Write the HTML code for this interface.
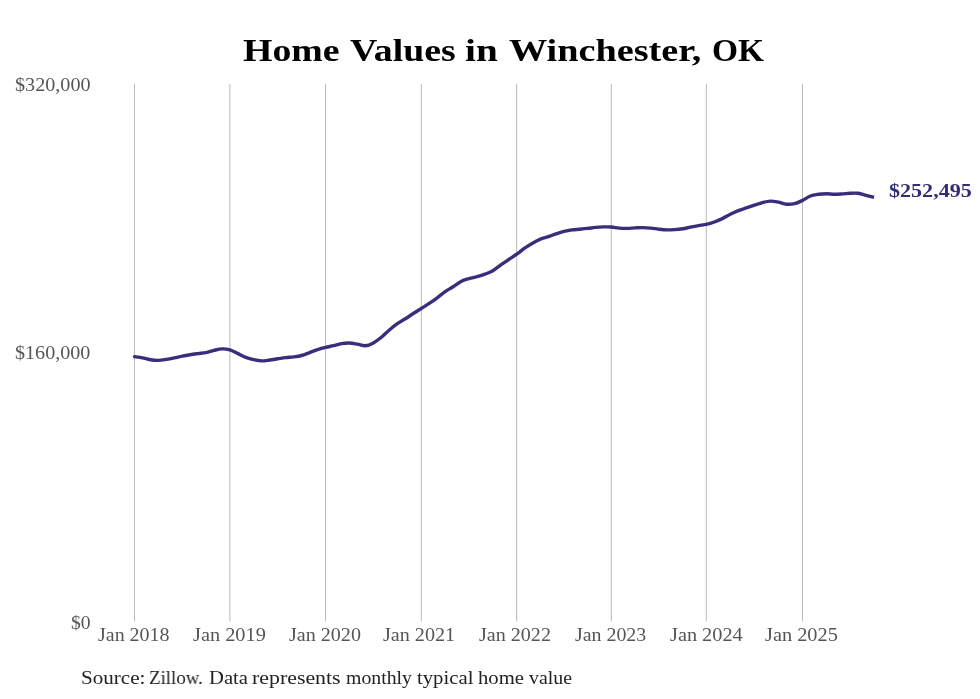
<!DOCTYPE html>
<html><head><meta charset="utf-8"><style>
html,body{margin:0;padding:0;background:#fff;}
body{width:980px;height:699px;position:relative;overflow:hidden;font-family:"Liberation Serif",serif;}
.tt,.sw,.yl,.xl,.vl{position:absolute;white-space:nowrap;line-height:1;transform-origin:0 0;will-change:transform;}
.tt{font-weight:bold;font-size:32px;color:#000;}
.sw{font-size:19.5px;color:#222;}
.yl{font-size:18px;color:#555;}
.xl{font-size:18px;color:#555;}
.vl{font-weight:bold;font-size:18px;color:#332d75;}
svg{position:absolute;left:0;top:0;}
</style></head><body>
<div class="tt" style="left:243.32px;top:33.6px;transform:scaleX(1.1812)">Home</div><div class="tt" style="left:350.2px;top:33.6px;transform:scaleX(1.1809)">Values</div><div class="tt" style="left:465.28px;top:33.6px;transform:scaleX(1.224)">in</div><div class="tt" style="left:509.2px;top:33.6px;transform:scaleX(1.195)">Winchester,</div><div class="tt" style="left:711.61px;top:33.6px;transform:scaleX(1.0437)">OK</div>
<div class="yl" style="left:14.78px;top:76px;transform:scaleX(1.1197)">$320,000</div><div class="yl" style="left:14.98px;top:344px;transform:scaleX(1.1167)">$160,000</div><div class="yl" style="left:70.98px;top:614.2px;transform:scaleX(1.0894)">$0</div>
<svg width="980" height="699" viewBox="0 0 980 699">
<g stroke="#bbbbbb" stroke-width="1"><line x1="134.5" y1="84" x2="134.5" y2="621.5"/><line x1="229.9" y1="84" x2="229.9" y2="621.5"/><line x1="325.5" y1="84" x2="325.5" y2="621.5"/><line x1="421.3" y1="84" x2="421.3" y2="621.5"/><line x1="516.7" y1="84" x2="516.7" y2="621.5"/><line x1="611.3" y1="84" x2="611.3" y2="621.5"/><line x1="706.3" y1="84" x2="706.3" y2="621.5"/><line x1="802.5" y1="84" x2="802.5" y2="621.5"/></g>
<path d="M134.50,356.60C135.82,356.82 139.80,357.38 142.45,357.90C145.10,358.42 147.75,359.28 150.40,359.70C153.05,360.12 155.70,360.45 158.35,360.40C161.00,360.35 163.65,359.82 166.30,359.40C168.95,358.98 171.60,358.45 174.25,357.90C176.90,357.35 179.55,356.63 182.20,356.10C184.85,355.57 187.50,355.12 190.15,354.70C192.80,354.28 195.45,353.95 198.10,353.60C200.75,353.25 203.40,353.13 206.05,352.60C208.70,352.07 211.35,351.02 214.00,350.40C216.65,349.78 219.30,348.98 221.95,348.90C224.60,348.82 227.25,349.12 229.90,349.90C232.55,350.68 235.21,352.35 237.87,353.60C240.52,354.85 243.18,356.38 245.83,357.40C248.49,358.42 251.14,359.12 253.80,359.70C256.46,360.28 259.11,360.85 261.77,360.90C264.42,360.95 267.08,360.35 269.73,360.00C272.39,359.65 275.04,359.20 277.70,358.80C280.36,358.40 283.01,357.92 285.67,357.60C288.32,357.28 290.98,357.25 293.63,356.90C296.29,356.55 298.94,356.22 301.60,355.50C304.26,354.78 306.91,353.57 309.57,352.60C312.22,351.63 314.88,350.57 317.53,349.70C320.19,348.83 322.84,348.07 325.50,347.40C328.16,346.73 330.82,346.33 333.48,345.70C336.14,345.07 338.81,344.05 341.47,343.60C344.13,343.15 346.79,342.90 349.45,343.00C352.11,343.10 354.77,343.73 357.43,344.20C360.09,344.67 362.76,346.02 365.42,345.80C368.08,345.58 370.74,344.32 373.40,342.90C376.06,341.48 378.72,339.45 381.38,337.30C384.04,335.15 386.71,332.27 389.37,330.00C392.03,327.73 394.69,325.57 397.35,323.70C400.01,321.83 402.67,320.50 405.33,318.80C407.99,317.10 410.66,315.22 413.32,313.50C415.98,311.78 418.64,310.18 421.30,308.50C423.96,306.82 426.60,305.18 429.25,303.40C431.90,301.62 434.55,299.77 437.20,297.80C439.85,295.83 442.50,293.43 445.15,291.60C447.80,289.77 450.45,288.50 453.10,286.80C455.75,285.10 458.40,282.77 461.05,281.40C463.70,280.03 466.35,279.38 469.00,278.60C471.65,277.82 474.30,277.43 476.95,276.70C479.60,275.97 482.25,275.20 484.90,274.20C487.55,273.20 490.20,272.25 492.85,270.70C495.50,269.15 498.15,266.77 500.80,264.90C503.45,263.03 506.10,261.28 508.75,259.50C511.40,257.72 514.06,256.08 516.70,254.20C519.34,252.32 521.96,250.03 524.58,248.20C527.21,246.37 529.84,244.72 532.47,243.20C535.09,241.68 537.72,240.18 540.35,239.10C542.98,238.02 545.61,237.58 548.23,236.70C550.86,235.82 553.49,234.68 556.12,233.80C558.74,232.92 561.37,232.05 564.00,231.40C566.63,230.75 569.26,230.27 571.88,229.90C574.51,229.53 577.14,229.45 579.77,229.20C582.39,228.95 585.02,228.70 587.65,228.40C590.28,228.10 592.91,227.65 595.53,227.40C598.16,227.15 600.79,226.97 603.42,226.90C606.04,226.83 608.67,226.80 611.30,227.00C613.93,227.20 616.58,227.87 619.22,228.10C621.86,228.33 624.49,228.43 627.13,228.40C629.77,228.37 632.41,228.03 635.05,227.90C637.69,227.77 640.33,227.57 642.97,227.60C645.61,227.63 648.24,227.83 650.88,228.10C653.52,228.37 656.16,228.90 658.80,229.20C661.44,229.50 664.08,229.83 666.72,229.90C669.36,229.97 671.99,229.78 674.63,229.60C677.27,229.42 679.91,229.20 682.55,228.80C685.19,228.40 687.83,227.73 690.47,227.20C693.11,226.67 695.74,226.07 698.38,225.60C701.02,225.13 703.64,225.00 706.30,224.40C708.96,223.80 711.64,222.97 714.32,222.00C716.99,221.03 719.66,219.90 722.33,218.60C725.01,217.30 727.68,215.53 730.35,214.20C733.02,212.87 735.69,211.65 738.37,210.60C741.04,209.55 743.71,208.80 746.38,207.90C749.06,207.00 751.73,206.08 754.40,205.20C757.07,204.32 759.74,203.28 762.42,202.60C765.09,201.92 767.76,201.17 770.43,201.10C773.11,201.03 775.78,201.68 778.45,202.20C781.12,202.72 783.79,203.95 786.47,204.20C789.14,204.45 791.81,204.33 794.48,203.70C797.16,203.07 799.84,201.68 802.50,200.40C805.16,199.12 807.80,197.02 810.45,196.00C813.10,194.98 815.75,194.68 818.40,194.30C821.05,193.92 823.70,193.72 826.35,193.70C829.00,193.68 831.65,194.17 834.30,194.20C836.95,194.23 839.60,194.05 842.25,193.90C844.90,193.75 847.55,193.40 850.20,193.30C852.85,193.20 855.50,192.97 858.15,193.30C860.80,193.63 863.45,194.62 866.10,195.30C868.75,195.98 872.72,197.05 874.05,197.40" fill="none" stroke="#3a2e7c" stroke-width="3.4" stroke-linecap="butt" stroke-linejoin="round"/>
<circle cx="134.50" cy="356.60" r="1.7" fill="#3a2e7c"/>
</svg>
<div class="xl" style="left:98.3px;top:626px;transform:scaleX(1.1094)">Jan 2018</div><div class="xl" style="left:193.1px;top:626px;transform:scaleX(1.1297)">Jan 2019</div><div class="xl" style="left:288.9px;top:626px;transform:scaleX(1.1156)">Jan 2020</div><div class="xl" style="left:383.3px;top:626px;transform:scaleX(1.1175)">Jan 2021</div><div class="xl" style="left:479.2px;top:626px;transform:scaleX(1.1156)">Jan 2022</div><div class="xl" style="left:575.0px;top:626px;transform:scaleX(1.1047)">Jan 2023</div><div class="xl" style="left:670.0px;top:626px;transform:scaleX(1.1266)">Jan 2024</div><div class="xl" style="left:765.3px;top:626px;transform:scaleX(1.1297)">Jan 2025</div>
<div class="vl" style="left:889.07px;top:181.9px;transform:scaleX(1.2258)">$252,495</div>
<div class="sw" style="left:80.82px;top:668px;transform:scaleX(1.0807)">Source:</div><div class="sw" style="left:148.93px;top:668px;transform:scaleX(0.9679)">Zillow.</div><div class="sw" style="left:208.54px;top:668px;transform:scaleX(1.0571)">Data</div><div class="sw" style="left:252.48px;top:668px;transform:scaleX(1.1208)">represents</div><div class="sw" style="left:346.38px;top:668px;transform:scaleX(1.0156)">monthly</div><div class="sw" style="left:417.24px;top:668px;transform:scaleX(1.0627)">typical</div><div class="sw" style="left:477.84px;top:668px;transform:scaleX(1.0619)">home</div><div class="sw" style="left:529.3px;top:668px;transform:scaleX(1.0167)">value</div>
</body></html>
